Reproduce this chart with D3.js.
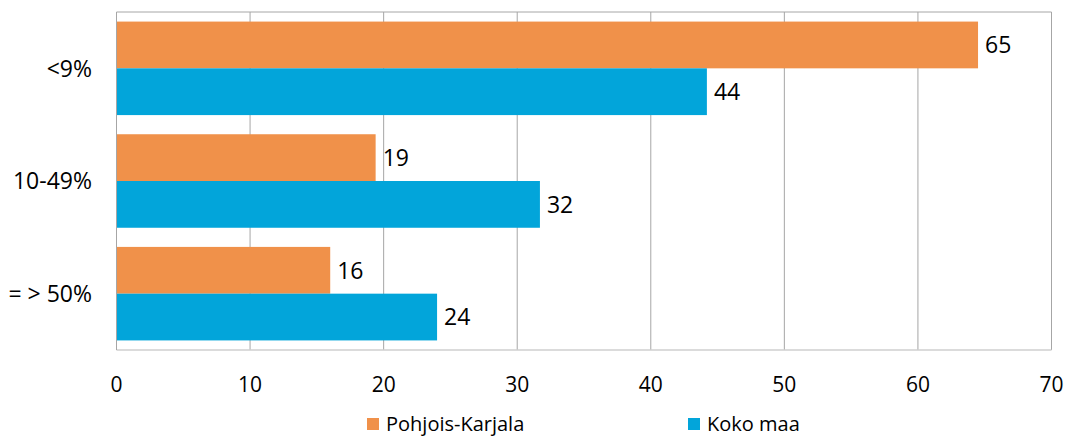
<!DOCTYPE html>
<html>
<head>
<style>
  body { margin: 0; background: #fff; }
  svg text { font-family: "Open Sans", "Noto Sans", sans-serif; fill: #000; }
</style>
</head>
<body>
<svg width="1077" height="436"></svg>
<script src="https://d3js.org/d3.v7.min.js"></script>
<script>
    const categories = ["<9%", "10-49%", "= > 50%"];
    const seriesNames = ["Pohjois-Karjala", "Koko maa"];
    const pohjoisKarjala = [64.5, 19.4, 16.0];
    const kokoMaa = [44.2, 31.7, 24.0];
    const xTicks = [0, 10, 20, 30, 40, 50, 60, 70];
    const colors = ["#F0914A", "#02A5DA"];

    const svg = d3.select("svg");
    const plotLeft = 116.5, plotRight = 1051.5, plotTop = 12, plotBottom = 350;

    const x = d3.scaleLinear().domain([0, 70]).range([plotLeft, plotRight]);
    const y = d3.scaleBand().domain(categories).range([plotTop, plotBottom]).paddingInner(0.17).paddingOuter(0.085);
    const sub = d3.scaleBand().domain(seriesNames).range([0, y.bandwidth()]);

    // gridlines
    svg.append("g").selectAll("line")
        .data(xTicks.slice(1))
        .enter().append("line")
        .attr("x1", d => x(d)).attr("x2", d => x(d))
        .attr("y1", plotTop).attr("y2", plotBottom)
        .attr("stroke", "#a6a6a6").attr("stroke-width", 1);

    // top border
    svg.append("line")
        .attr("x1", plotLeft).attr("x2", plotRight).attr("y1", plotTop).attr("y2", plotTop)
        .attr("stroke", "#a6a6a6");

    const rows = categories.map((c, i) => ({ cat: c, values: [pohjoisKarjala[i], kokoMaa[i]] }));

    const group = svg.append("g").selectAll("g")
        .data(rows)
        .enter().append("g")
        .attr("transform", d => "translate(0," + y(d.cat) + ")");

    const bars = group.selectAll("g")
        .data(d => d.values.map((v, j) => ({ name: seriesNames[j], value: v, color: colors[j] })))
        .enter().append("g");

    bars.append("rect")
        .attr("x", x(0))
        .attr("y", d => sub(d.name))
        .attr("width", d => x(d.value) - x(0))
        .attr("height", sub.bandwidth())
        .attr("fill", d => d.color);

    bars.append("text")
        .attr("x", d => x(d.value) + 7)
        .attr("y", d => sub(d.name) + sub.bandwidth() / 2)
        .attr("dy", "0.36em")
        .style("font-size", "23px")
        .text(d => d3.format(".0f")(d.value));

    // axes lines
    svg.append("line")
        .attr("x1", plotLeft).attr("x2", plotRight).attr("y1", plotBottom).attr("y2", plotBottom)
        .attr("stroke", "#cfcfcf").attr("stroke-width", 1.5);
    svg.append("line")
        .attr("x1", plotLeft).attr("x2", plotLeft).attr("y1", plotTop).attr("y2", plotBottom)
        .attr("stroke", "#a6a6a6");

    // x tick labels
    svg.append("g").selectAll("text")
        .data(xTicks)
        .enter().append("text")
        .attr("x", d => x(d))
        .attr("y", 392)
        .attr("text-anchor", "middle")
        .style("font-size", "21px")
        .text(d => d);

    // y category labels
    svg.append("g").selectAll("text")
        .data(categories)
        .enter().append("text")
        .attr("x", 92)
        .attr("y", d => y(d) + y.bandwidth() / 2)
        .attr("dy", "0.36em")
        .attr("text-anchor", "end")
        .style("font-size", "23px")
        .text(d => d);

    // legend
    const legendX = [367, 688];
    const legend = svg.append("g").selectAll("g")
        .data(seriesNames)
        .enter().append("g")
        .attr("transform", (d, i) => "translate(" + legendX[i] + ",418)");
    legend.append("rect")
        .attr("width", 12).attr("height", 12)
        .attr("fill", (d, i) => colors[i]);
    legend.append("text")
        .attr("x", 19).attr("y", 13)
        .style("font-size", "20px")
        .text(d => d);
</script>
</body>
</html>
